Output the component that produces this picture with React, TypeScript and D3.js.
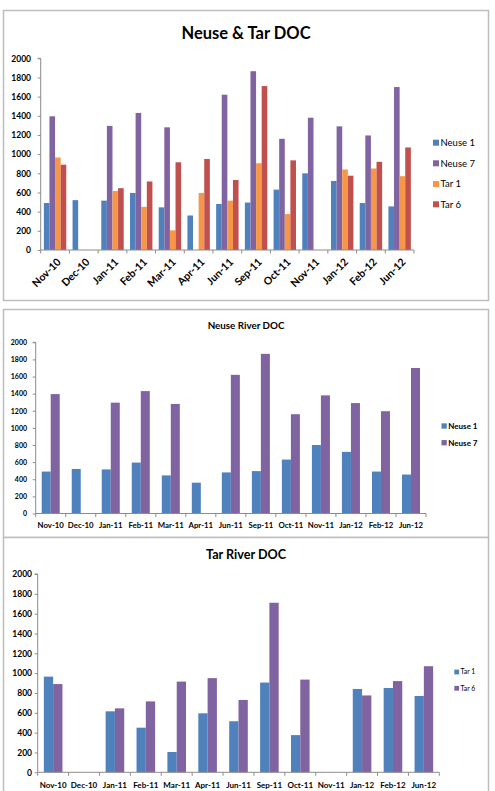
import { useEffect, useRef } from 'react';
import * as d3 from 'd3';

// Sampling months (gaps in the record are skipped, not interpolated)
const MONTHS = ['Nov-10', 'Dec-10', 'Jan-11', 'Feb-11', 'Mar-11', 'Apr-11', 'Jun-11', 'Sep-11', 'Oct-11', 'Nov-11', 'Jan-12', 'Feb-12', 'Jun-12'];

// DOC by station; null = no sample that month
const NEUSE_1: (number | null)[] = [490, 520, 515, 595, 445, 360, 480, 495, 630, 800, 720, 490, 455];
const NEUSE_7: (number | null)[] = [1395, null, 1295, 1430, 1280, null, 1620, 1865, 1160, 1380, 1290, 1195, 1700];
const TAR_1: (number | null)[] = [965, null, 615, 450, 205, 595, 515, 905, 375, null, 840, 850, 770];
const TAR_6: (number | null)[] = [890, null, 645, 715, 915, 950, 730, 1710, 935, null, 775, 920, 1070];

const Y_TICKS = [0, 200, 400, 600, 800, 1000, 1200, 1400, 1600, 1800, 2000];

const BLUE = '#4f81bd';
const PURPLE = '#8064a2';
const ORANGE = '#f79646';
const RED = '#c0504d';
const AXIS = '#8c8c8c';
const FONT = 'Lato, "Open Sans", sans-serif';

interface Series {
  name: string;
  values: (number | null)[];
  color: string;
}

interface PanelSpec {
  frame: { x: number; y: number; w: number; h: number };
  title: string;
  titleY: number;
  titleSize: number;
  plot: { left: number; right: number; top: number; bottom: number };
  barGap: number;
  series: Series[];
  yFont: number;
  yLabelX: number;
  xFont: number;
  xRotate: boolean;
  xLabelY: number;
  legendX: number;
  legendRows: number[];
  legendFont: number;
  legendBold: boolean;
  swatch: number;
}

const PANELS: PanelSpec[] = [
  {
    frame: { x: 3.5, y: 10.5, w: 485, h: 290 },
    title: 'Neuse & Tar DOC',
    titleY: 33.5,
    titleSize: 16.5,
    plot: { left: 40.7, right: 414, top: 58.3, bottom: 250 },
    barGap: 6.3,
    series: [
      { name: 'Neuse 1', values: NEUSE_1, color: BLUE },
      { name: 'Neuse 7', values: NEUSE_7, color: PURPLE },
      { name: 'Tar 1', values: TAR_1, color: ORANGE },
      { name: 'Tar 6', values: TAR_6, color: RED },
    ],
    yFont: 8.5,
    yLabelX: 31,
    xFont: 10.5,
    xRotate: true,
    xLabelY: 260,
    legendX: 433,
    legendRows: [142.7, 163.3, 184, 204.3],
    legendFont: 9.5,
    legendBold: false,
    swatch: 6,
  },
  {
    frame: { x: 3.5, y: 309.5, w: 485, h: 228 },
    title: 'Neuse River DOC',
    titleY: 325.5,
    titleSize: 9.8,
    plot: { left: 35.7, right: 426, top: 342.3, bottom: 513.5 },
    barGap: 12,
    series: [
      { name: 'Neuse 1', values: NEUSE_1, color: BLUE },
      { name: 'Neuse 7', values: NEUSE_7, color: PURPLE },
    ],
    yFont: 7,
    yLabelX: 27,
    xFont: 7.8,
    xRotate: false,
    xLabelY: 525,
    legendX: 441.5,
    legendRows: [426, 442.7],
    legendFont: 8,
    legendBold: true,
    swatch: 5.3,
  },
  {
    frame: { x: 3.5, y: 537.5, w: 485, h: 270 },
    title: 'Tar River DOC',
    titleY: 554,
    titleSize: 12.6,
    plot: { left: 37.7, right: 439.3, top: 574, bottom: 772.3 },
    barGap: 12.3,
    series: [
      { name: 'Tar 1', values: TAR_1, color: BLUE },
      { name: 'Tar 6', values: TAR_6, color: PURPLE },
    ],
    yFont: 8.5,
    yLabelX: 32,
    xFont: 8,
    xRotate: false,
    xLabelY: 785.3,
    legendX: 454.3,
    legendRows: [672, 688.3],
    legendFont: 6.8,
    legendBold: false,
    swatch: 4.8,
  },
];

function drawPanel(root: d3.Selection<SVGGElement, unknown, null, undefined>, p: PanelSpec) {
  const g = root.append('g');

  g.append('rect')
    .attr('x', p.frame.x)
    .attr('y', p.frame.y)
    .attr('width', p.frame.w)
    .attr('height', p.frame.h)
    .attr('fill', '#fff')
    .attr('stroke', '#bdbdbd')
    .attr('stroke-width', 1.5);

  g.append('text')
    .attr('x', 246)
    .attr('y', p.titleY)
    .attr('dy', '0.36em')
    .attr('text-anchor', 'middle')
    .style('font-family', FONT)
    .style('font-weight', 700)
    .style('font-size', `${p.titleSize}px`)
    .style('fill', '#000')
    .text(p.title);

  const x = d3.scaleBand<string>().domain(MONTHS).range([p.plot.left, p.plot.right]).padding(0);
  const y = d3.scaleLinear().domain([0, 2000]).range([p.plot.bottom, p.plot.top]);
  const inner = d3
    .scaleBand<string>()
    .domain(p.series.map((s) => s.name))
    .range([p.barGap / 2, x.bandwidth() - p.barGap / 2])
    .padding(0);

  // Bars
  p.series.forEach((s) => {
    const rows = MONTHS.map((m, i) => ({ m, v: s.values[i] })).filter((d) => d.v != null) as { m: string; v: number }[];
    g.append('g')
      .selectAll('rect')
      .data(rows)
      .join('rect')
      .attr('x', (d) => (x(d.m) || 0) + (inner(s.name) || 0))
      .attr('y', (d) => y(d.v))
      .attr('width', inner.bandwidth())
      .attr('height', (d) => y(0) - y(d.v))
      .attr('fill', s.color);
  });

  // Y axis
  const yAxis = g.append('g').attr('transform', `translate(${p.plot.left},0)`);
  yAxis.call(
    d3
      .axisLeft(y)
      .tickValues(Y_TICKS)
      .tickFormat((d) => String(d))
      .tickSize(3)
      .tickPadding(p.plot.left - p.yLabelX - 3)
  );
  yAxis.select('.domain').attr('stroke', AXIS).attr('d', `M-3,${p.plot.top}H0V${p.plot.bottom}`);
  yAxis.selectAll('line').attr('stroke', AXIS);
  yAxis
    .selectAll('text')
    .style('font-family', FONT)
    .style('font-weight', 700)
    .style('font-size', `${p.yFont}px`)
    .style('fill', '#000');

  // X axis: ticks sit on category boundaries
  const xAxis = g.append('g');
  xAxis
    .append('line')
    .attr('x1', p.plot.left)
    .attr('x2', p.plot.right)
    .attr('y1', p.plot.bottom)
    .attr('y2', p.plot.bottom)
    .attr('stroke', AXIS);
  xAxis
    .selectAll('line.tick')
    .data([...MONTHS.map((m) => x(m) || 0), p.plot.right])
    .join('line')
    .attr('class', 'tick')
    .attr('x1', (d) => d)
    .attr('x2', (d) => d)
    .attr('y1', p.plot.bottom)
    .attr('y2', p.plot.bottom + 3.5)
    .attr('stroke', AXIS);

  const labels = xAxis
    .selectAll('text')
    .data(MONTHS)
    .join('text')
    .style('font-family', FONT)
    .style('font-weight', 700)
    .style('font-size', `${p.xFont}px`)
    .style('fill', '#000')
    .text((d) => d);

  if (p.xRotate) {
    labels
      .attr('text-anchor', 'end')
      .attr('dy', '0.35em')
      .attr('transform', (d) => `translate(${(x(d) || 0) + x.bandwidth() / 2 + 4},${p.xLabelY}) rotate(-45)`);
  } else {
    labels
      .attr('text-anchor', 'middle')
      .attr('dy', '0.35em')
      .attr('x', (d) => (x(d) || 0) + x.bandwidth() / 2)
      .attr('y', p.xLabelY);
  }

  // Legend
  const legend = g
    .selectAll('g.legend')
    .data(p.series)
    .join('g')
    .attr('class', 'legend')
    .attr('transform', (_d, i) => `translate(${p.legendX},${p.legendRows[i]})`);
  legend
    .append('rect')
    .attr('x', 0)
    .attr('y', -p.swatch / 2)
    .attr('width', p.swatch)
    .attr('height', p.swatch)
    .attr('fill', (d) => d.color);
  legend
    .append('text')
    .attr('x', p.swatch + 1.5)
    .attr('dy', '0.36em')
    .style('font-family', FONT)
    .style('font-weight', p.legendBold ? 700 : 400)
    .style('font-size', `${p.legendFont}px`)
    .style('fill', '#000')
    .text((d) => d.name);
}

export default function App() {
  const svgRef = useRef<SVGSVGElement>(null);

  useEffect(() => {
    if (!svgRef.current) return;
    const svg = d3.select(svgRef.current);
    svg.selectAll('*').remove();
    const root = svg.append('g');
    PANELS.forEach((p) => drawPanel(root, p));
  }, []);

  return (
    <svg
      ref={svgRef}
      width={495}
      height={791}
      style={{ position: 'absolute', left: 0, top: 0, background: '#fff' }}
    />
  );
}
